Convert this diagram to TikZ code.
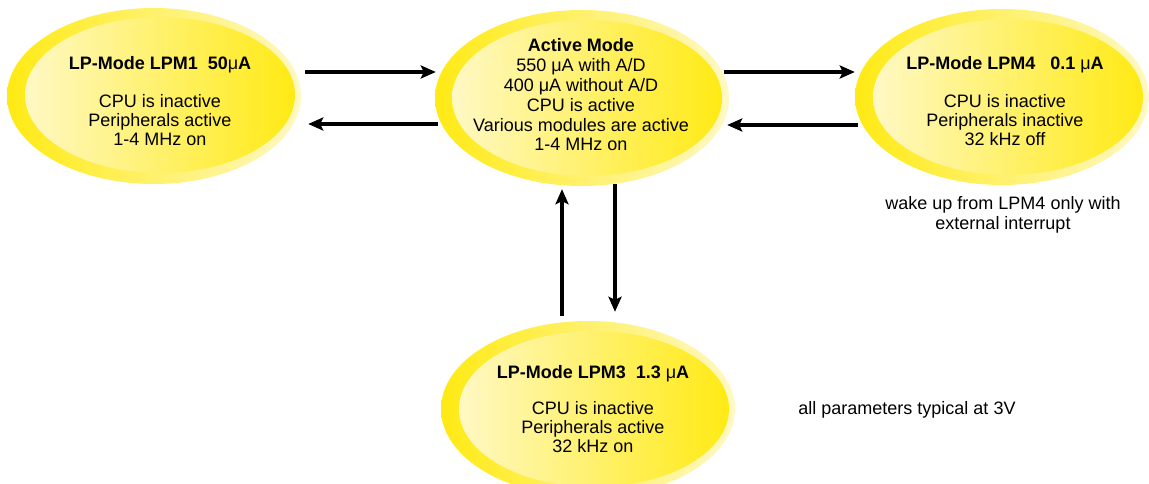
\documentclass[tikz,border=0pt]{standalone}
\usepackage{fontspec}
\setmainfont{Liberation Sans}
\usetikzlibrary{shapes.geometric,arrows.meta}
\definecolor{yel}{RGB}{255,234,20}
\definecolor{pale}{RGB}{255,248,196}
\tikzset{
 outer/.style={ellipse, minimum width=294pt, minimum height=176pt, inner sep=0pt, left color=yel, right color=pale, draw=none},
 inner/.style={ellipse, minimum width=270pt, minimum height=156pt, inner sep=0pt, left color=pale, right color=yel, draw=none},
 txt/.style={align=center, font=\fontsize{18}{19}\selectfont, inner sep=0pt},
 note/.style={align=center, font=\fontsize{18}{20}\selectfont, inner sep=0pt},
 arr/.style={line width=3.2pt, -{Stealth[length=15pt,width=13pt,inset=3pt]}}
}
\begin{document}
\begin{tikzpicture}[x=1pt,y=-1pt]
\useasboundingbox (0,0) rectangle (1149,484);
% ellipses
\node[outer] (lpm1) at (154,96) {};
\node[inner] (lpm1i) at (160,95) {};
\node[outer] (act) at (582,98) {};
\node[inner] (acti) at (587,98) {};
\node[outer] (lpm4) at (1002,97) {};
\node[inner] (lpm4i) at (1008,97) {};
\node[outer] (lpm3) at (588,409) {};
\node[inner] (lpm3i) at (594,409) {};
% texts
\node[txt] (t1) at (160,101) {\textbf{LP-Mode LPM1\ \ 50{\mdseries μ}A}\\[19pt]CPU is inactive\\Peripherals active\\1-4 MHz on};
\node[txt, font=\fontsize{18}{19.8}\selectfont] (ta) at (581,95) {\textbf{Active Mode}\\550 μA with A/D\\400 μA without A/D\\CPU is active\\Various modules are active\\1-4 MHz on};
\node[txt] (t4) at (1005,101) {\textbf{LP-Mode LPM4\ \ \ 0.1 {\mdseries μ}A}\\[19pt]CPU is inactive\\Peripherals inactive\\32 kHz off};
\node[txt] (t3) at (593,409) {\textbf{LP-Mode LPM3\ \ 1.3 {\mdseries μ}A}\\[17pt]CPU is inactive\\Peripherals active\\32 kHz on};
\node[note] (n4) at (1003,215) {wake up from LPM4 only with\\external interrupt};
\node[note] (n3) at (907,410) {all parameters typical at 3V};
% arrows
\draw[arr] ([xshift=4pt]lpm1.east |- 0,72) -- ([xshift=1pt]act.west |- 0,72);
\draw[arr] ([xshift=3pt]act.west |- 0,124) -- ([xshift=7pt]lpm1.east |- 0,124);
\draw[arr] ([xshift=-5pt]act.east |- 0,72) -- (lpm4.west |- 0,72);
\draw[arr] ([xshift=3pt]lpm4.west |- 0,125) -- ([xshift=-2pt]act.east |- 0,125);
\draw[arr] (562,0 |- lpm3.north) ++(0,-5) -- ([yshift=-3pt]562,0 |- act.south);
\draw[arr] (615,0 |- act.south) ++(0,-2) -- ([yshift=9pt]615,0 |- lpm3.north);
\end{tikzpicture}
\end{document}
